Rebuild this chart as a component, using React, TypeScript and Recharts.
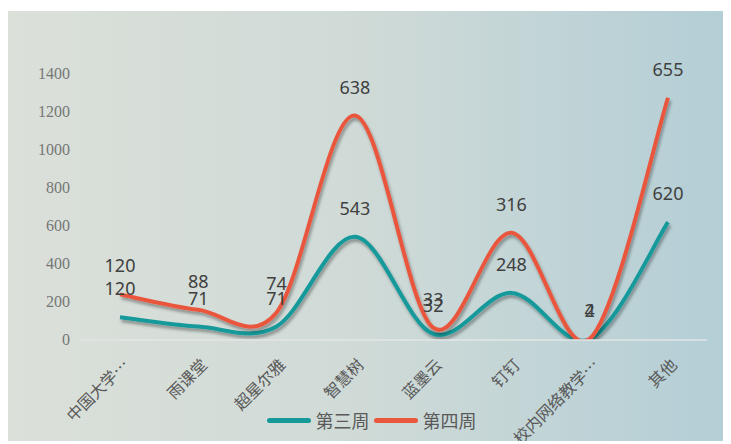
import { LabelList, Legend, Line, LineChart, XAxis, YAxis } from "recharts";

const categories = ["中国大学…", "雨课堂", "超星尔雅", "智慧树", "蓝墨云", "钉钉", "校内网络教学…", "其他"];
const week3 = [120, 71, 71, 543, 32, 248, 4, 620];
const week4 = [120, 88, 74, 638, 33, 316, 2, 655];
const yTicks = [0, 200, 400, 600, 800, 1000, 1200, 1400];

const TEAL = "#17999a";
const RED = "#e9573d";

// 第四周 sits on top of 第三周 (stacked line), labels show its own value
const data = categories.map((name, i) => ({
  name,
  w3: week3[i],
  w4: week4[i],
  total: week3[i] + week4[i],
}));

// Excel-like smoothing: bezier handles at 1/6 of the neighbour difference
function smoothCurve(context: any) {
  let pts: number[][] = [];
  return {
    areaStart() {},
    areaEnd() {},
    lineStart() {
      pts = [];
    },
    point(x: number, y: number) {
      pts.push([+x, +y]);
    },
    lineEnd() {
      const n = pts.length;
      if (!n) return;
      context.moveTo(pts[0][0], pts[0][1]);
      for (let i = 0; i < n - 1; i++) {
        const p0 = pts[i - 1] || pts[i];
        const p1 = pts[i];
        const p2 = pts[i + 1];
        const p3 = pts[i + 2] || p2;
        context.bezierCurveTo(
          p1[0] + (p2[0] - p0[0]) / 6,
          p1[1] + (p2[1] - p0[1]) / 6,
          p2[0] - (p3[0] - p1[0]) / 6,
          p2[1] - (p3[1] - p1[1]) / 6,
          p2[0],
          p2[1]
        );
      }
    },
  };
}

function XTick({ x, y, payload }: any) {
  return (
    <g transform={`translate(${x + 10},${y + 18})`}>
      <text
        x={0}
        y={0}
        textAnchor="end"
        transform="rotate(-45)"
        fill="#595959"
        fontSize={16}
        fontFamily="'Noto Sans CJK SC', sans-serif"
      >
        {payload.value}
      </text>
    </g>
  );
}

function YTick({ x, y, payload }: any) {
  return (
    <text
      x={x}
      y={y}
      dy={5}
      textAnchor="end"
      fill="#767676"
      fontSize={16}
      fontFamily="'Liberation Serif', serif"
    >
      {payload.value}
    </text>
  );
}

function LegendContent() {
  const items = [
    { label: "第三周", color: TEAL },
    { label: "第四周", color: RED },
  ];
  return (
    <div
      style={{
        display: "flex",
        justifyContent: "center",
        alignItems: "center",
        height: 30,
        paddingLeft: 8,
        fontFamily: "'Noto Sans CJK SC', sans-serif",
        fontSize: 18,
        color: "#595959",
      }}
    >
      {items.map((it) => (
        <div key={it.label} style={{ display: "flex", alignItems: "center", marginRight: 4 }}>
          <span
            style={{
              display: "inline-block",
              width: 44,
              height: 5,
              borderRadius: 3,
              background: it.color,
              marginRight: 5,
            }}
          />
          <span>{it.label}</span>
        </div>
      ))}
    </div>
  );
}

const labelStyle = {
  fill: "#404040",
  fontSize: 18,
  fontFamily: "'Noto Sans', sans-serif",
};

export default function App() {
  return (
    <div
      style={{
        position: "relative",
        top: 3,
        width: 723,
        height: 433,
        background: "linear-gradient(90deg, #dbe0d9 0%, #cfdad7 50%, #b3ced6 100%)",
      }}
    >
      <LineChart width={723} height={433} data={data} margin={{ top: 63, right: 24, left: 13, bottom: 9 }}>
        <defs>
          <filter id="shadow" x="-10%" y="-10%" width="120%" height="130%">
            <feDropShadow dx={1.5} dy={3} stdDeviation={1.8} floodColor="#000" floodOpacity={0.35} />
          </filter>
        </defs>
        <XAxis
          dataKey="name"
          interval={0}
          tickLine={false}
          padding={{ left: 39, right: 39 }}
          axisLine={{ stroke: "#e2e6e6", strokeWidth: 1.5 }}
          tick={<XTick />}
          height={65}
        />
        <YAxis
          domain={[0, 1400]}
          ticks={yTicks}
          allowDataOverflow
          axisLine={false}
          tickLine={false}
          width={60}
          tickMargin={5}
          tick={<YTick />}
        />
        <Legend
          verticalAlign="bottom"
          content={<LegendContent />}
          wrapperStyle={{ left: 0, width: 723 }}
        />
        <Line
          dataKey="w3"
          name="第三周"
          type={smoothCurve as any}
          stroke={TEAL}
          strokeWidth={4}
          dot={false}
          filter="url(#shadow)"
          isAnimationActive={false}
        >
          <LabelList dataKey="w3" position="top" offset={22} style={labelStyle} />
        </Line>
        <Line
          dataKey="total"
          name="第四周"
          type={smoothCurve as any}
          stroke={RED}
          strokeWidth={4}
          dot={false}
          filter="url(#shadow)"
          isAnimationActive={false}
        >
          <LabelList dataKey="w4" position="top" offset={22} style={labelStyle} />
        </Line>
      </LineChart>
    </div>
  );
}
